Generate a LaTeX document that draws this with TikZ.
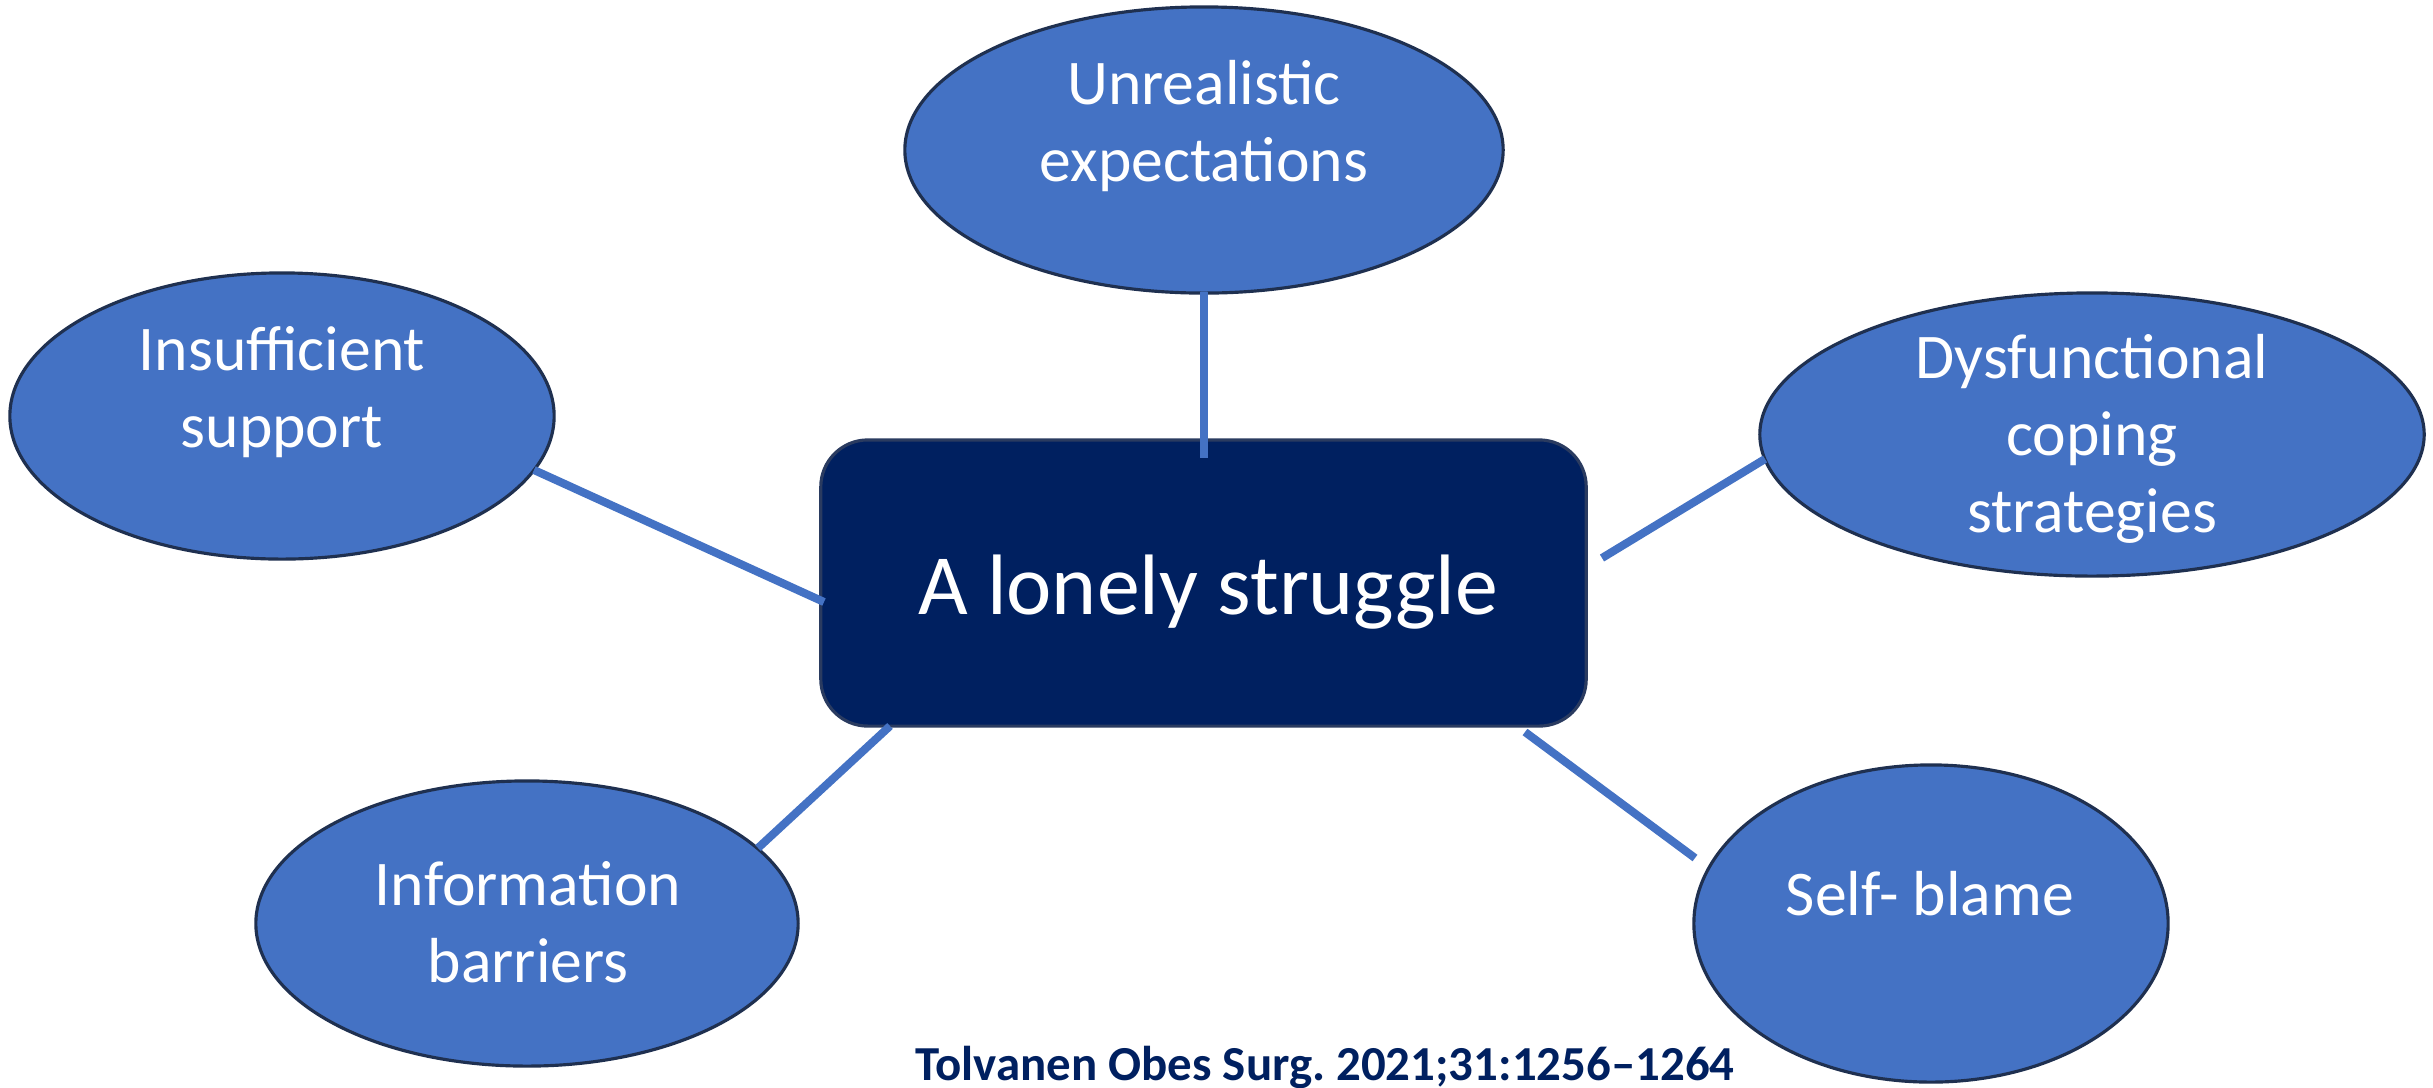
\documentclass[tikz,border=0pt]{standalone}
\usepackage{fontspec}
\setmainfont{Carlito}
\usetikzlibrary{shapes.geometric}
\frenchspacing
\definecolor{ellfill}{HTML}{4472C4}
\definecolor{ellborder}{HTML}{1F3050}
\definecolor{boxfill}{HTML}{002060}
\definecolor{boxborder}{HTML}{2A3B60}
\definecolor{linkcol}{HTML}{4472C4}
\definecolor{citecol}{HTML}{002060}
\begin{document}
\begin{tikzpicture}[x=0.01cm,y=-0.01cm,
  bubble/.style={ellipse,draw=ellborder,fill=ellfill,line width=0.9pt,inner sep=0pt},
  bubbletext/.style={text=white,align=center,font=\fontsize{18.1}{21.9}\selectfont,inner sep=0pt},
  centerbox/.style={rectangle,rounded corners=0.47cm,draw=boxborder,fill=boxfill,line width=0.9pt,inner sep=0pt,minimum width=7.65cm,minimum height=2.86cm},
  link/.style={draw=linkcol,line width=2.3pt}]
\useasboundingbox (0,0) rectangle (2433,1087);
\fill[white] (0,0) rectangle (2433,1087);
% central box
\node[centerbox] (center) at (1203.5,583) {};
\node[text=white,font=\fontsize{24.4}{29.3}\selectfont,inner sep=0pt] (centertext) at (1208,592) {A lonely struggle};
% ellipses
\node[bubble,minimum width=5.98cm,minimum height=2.86cm] (ue) at (1204,150) {};
\node[bubbletext] (uetext) at (1204,126.5) {Unrealistic\\expectations};
\node[bubble,minimum width=5.44cm,minimum height=2.86cm] (is) at (282,416) {};
\node[bubbletext] (istext) at (282,392.5) {Insufficient\\support};
\node[bubble,minimum width=6.64cm,minimum height=2.83cm] (dc) at (2092,434.5) {};
\node[bubbletext] (dctext) at (2092,439) {Dysfunctional\\coping\\strategies};
\node[bubble,minimum width=5.42cm,minimum height=2.85cm] (ib) at (527,923.5) {};
\node[bubbletext] (ibtext) at (528,922) {Information\\barriers};
\node[bubble,minimum width=4.74cm,minimum height=3.17cm] (sb) at (1931,923.5) {};
\node[bubbletext] (sbtext) at (1930,894) {Self- blame};
% connector ends
\coordinate (ueA) at (1204,292);
\coordinate (ueB) at (1204,458);
\coordinate (isA) at (534,470);
\coordinate (isB) at (824,602);
\coordinate (dcA) at (1765,459);
\coordinate (dcB) at (1602,558);
\coordinate (ibA) at (758,848);
\coordinate (ibB) at (890,726);
\coordinate (sbA) at (1695,858);
\coordinate (sbB) at (1525,732);
\draw[link] (ueA) -- (ueB);
\draw[link] (isA) -- (isB);
\draw[link] (dcA) -- (dcB);
\draw[link] (ibA) -- (ibB);
\draw[link] (sbA) -- (sbB);
% citation
\node[anchor=base,text=citecol,font=\fontsize{13.9}{16.5}\selectfont\bfseries,inner sep=0pt] (cite) at (1325,1080) {Tolvanen Obes Surg. 2021;31:1256–1264};
\end{tikzpicture}
\end{document}
